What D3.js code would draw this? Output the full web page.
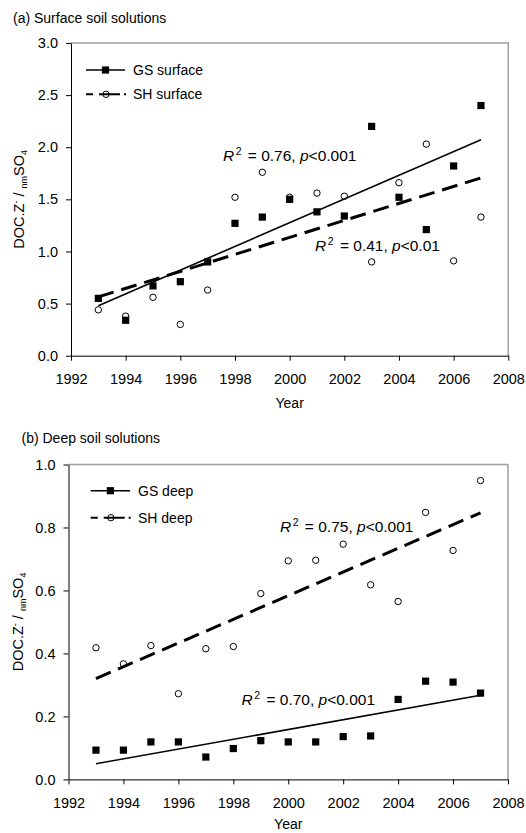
<!DOCTYPE html>
<html><head><meta charset="utf-8">
<script src="https://cdn.jsdelivr.net/npm/d3@7"></script>
<style>
body{margin:0;background:#fff;}
svg text{font-family:"Liberation Sans",Arial,Helvetica,sans-serif;fill:#000;}
</style></head><body>
<svg id="c" width="526" height="833"></svg>
<script>
// ---------------- data ----------------
const years = [1993,1994,1995,1996,1997,1998,1999,2000,2001,2002,2003,2004,2005,2006,2007];
const gsSurface = [0.55,0.34,0.67,0.71,0.90,1.27,1.33,1.50,1.38,1.34,2.20,1.52,1.21,1.82,2.40];
const shSurface = [0.44,0.38,0.56,0.30,0.63,1.52,1.76,1.52,1.56,1.53,0.90,1.66,2.03,0.91,1.33];
const gsDeep = [0.093,0.093,0.119,0.119,0.071,0.098,0.123,0.119,0.119,0.136,0.138,0.254,0.312,0.309,0.274];
const shDeep = [0.418,0.367,0.425,0.272,0.415,0.422,0.590,0.694,0.696,0.747,0.618,0.565,0.848,0.727,0.949];
const xTicks = [1992,1994,1996,1998,2000,2002,2004,2006,2008];
const yTicksA = [0,0.5,1.0,1.5,2.0,2.5,3.0];
const yTicksB = [0,0.2,0.4,0.6,0.8,1.0];
const titles = ["(a) Surface soil solutions","(b) Deep soil solutions"];
const legendA = ["GS surface","SH surface"];
const legendB = ["GS deep","SH deep"];
const statsA = [{r2:"0.76",p:"<0.001",year:1997.56,val:1.872},{r2:"0.41",p:"<0.01",year:2000.93,val:1.00}];
const statsB = [{r2:"0.75",p:"<0.001",year:1999.7,val:0.787},{r2:"0.70",p:"<0.001",year:1998.3,val:0.2365}];

// ---------------- helpers ----------------
function fit(xs, ys){
  const mx=d3.mean(xs), my=d3.mean(ys);
  let sxy=0,sxx=0;
  xs.forEach((x,i)=>{sxy+=(x-mx)*(ys[i]-my);sxx+=(x-mx)*(x-mx);});
  const b=sxy/sxx; return {a:my-b*mx,b};
}
const svg = d3.select("#c");
const FS = 14.5;

function panel(cfg){
  const x = d3.scaleLinear().domain([1992,2008]).range([cfg.l,cfg.r]);
  const y = d3.scaleLinear().domain([0,cfg.ymax]).range([cfg.b,cfg.t]);
  const g = svg.append("g");

  // title
  g.append("text").attr("x",cfg.titleX).attr("y",cfg.titleY).style("font-size","14px").text(cfg.title);

  // frame (top/right gray)
  g.append("path").attr("d",`M${cfg.l},${cfg.t}H${cfg.r}V${cfg.b}`)
    .attr("fill","none").attr("stroke","#a0a0a0").attr("stroke-width",1.5);

  // axes
  const xa = g.append("g").attr("transform",`translate(0,${cfg.b})`)
    .call(d3.axisBottom(x).tickValues(xTicks).tickFormat(d3.format("d")).tickSize(5).tickSizeOuter(0).tickPadding(13));
  const ya = g.append("g").attr("transform",`translate(${cfg.l},0)`)
    .call(d3.axisLeft(y).tickValues(cfg.yticks).tickFormat(d3.format(".1f")).tickSize(5).tickSizeOuter(0).tickPadding(8));
  [xa,ya].forEach(a=>{
    a.selectAll("text").style("font-size",FS+"px").style("font-family",'"Liberation Sans",Arial,sans-serif').attr("fill","#000");
    a.selectAll("line").attr("stroke","#000");
    a.select(".domain").attr("stroke","#000");
  });

  // axis titles
  g.append("text").attr("x",(cfg.l+cfg.r)/2).attr("y",cfg.b+cfg.yearOff).attr("text-anchor","middle").style("font-size","14px").text("Year");
  const yl = g.append("text").attr("transform",`translate(${cfg.ylx},${(cfg.t+cfg.b)/2}) rotate(-90)`)
    .attr("text-anchor","middle").style("font-size","14.5px");
  yl.append("tspan").text("DOC.Z");
  yl.append("tspan").attr("dy",-5).style("font-size","9px").text("-");
  yl.append("tspan").attr("dy",5).text(" / ");
  yl.append("tspan").attr("dy",3).style("font-size","9px").text("nm");
  yl.append("tspan").attr("dy",-3).text("SO");
  yl.append("tspan").attr("dy",3).style("font-size","9px").text("4");

  // regression lines
  const fg = fit(years,cfg.gs), fs = fit(years,cfg.sh);
  const x0 = years[0], x1 = years[years.length-1];
  g.append("line").attr("x1",x(x0)).attr("x2",x(x1)).attr("y1",y(fg.a+fg.b*x0)).attr("y2",y(fg.a+fg.b*x1))
    .attr("stroke","#000").attr("stroke-width",1.6);
  g.append("line").attr("x1",x(x0)).attr("x2",x(x1)).attr("y1",y(fs.a+fs.b*x0)).attr("y2",y(fs.a+fs.b*x1))
    .attr("stroke","#000").attr("stroke-width",3).attr("stroke-dasharray","16,8");

  // markers
  g.selectAll(".c").data(years).join("circle").attr("cx",d=>x(d)).attr("cy",(d,i)=>y(cfg.sh[i]))
    .attr("r",3.2).attr("fill","none").attr("stroke","#000").attr("stroke-width",1);
  g.selectAll(".s").data(years).join("rect").attr("x",d=>x(d)-3.6).attr("y",(d,i)=>y(cfg.gs[i])-3.6)
    .attr("width",7.2).attr("height",7.2).attr("fill","#000");

  // legend
  const L = cfg.leg;
  g.append("line").attr("x1",L.x0).attr("x2",L.x1).attr("y1",L.y1).attr("y2",L.y1).attr("stroke","#000").attr("stroke-width",1.5);
  g.append("rect").attr("x",(L.x0+L.x1)/2-3.6).attr("y",L.y1-3.6).attr("width",7.2).attr("height",7.2).attr("fill","#000");
  g.append("line").attr("x1",L.x0).attr("x2",L.x1+1).attr("y1",L.y2).attr("y2",L.y2).attr("stroke","#000").attr("stroke-width",2)
    .attr("stroke-dasharray","7,6,21,4,2");
  g.append("circle").attr("cx",(L.x0+L.x1)/2+0.5).attr("cy",L.y2).attr("r",3.2).attr("fill","none").attr("stroke","#000");
  g.append("text").attr("x",L.tx).attr("y",L.y1).attr("dy","0.36em").style("font-size","14px").text(cfg.legend[0]);
  g.append("text").attr("x",L.tx).attr("y",L.y2).attr("dy","0.36em").style("font-size","14px").text(cfg.legend[1]);

  // stats annotations
  cfg.stats.forEach(s=>{
    const t = g.append("text").attr("x",x(s.year)).attr("y",y(s.val)).style("font-size","15.5px");
    t.append("tspan").style("font-style","italic").text("R");
    t.append("tspan").attr("dx",1.5).attr("dy",-6).style("font-size","10.5px").text("2");
    t.append("tspan").attr("dx",2).attr("dy",6).text(" = " + s.r2 + ", ");
    t.append("tspan").style("font-style","italic").text("p");
    t.append("tspan").text(s.p);
  });
}

panel({l:71,r:508.3,t:43,b:355.7,ymax:3,yticks:yTicksA,gs:gsSurface,sh:shSurface,title:titles[0],
  titleX:13,titleY:22.5,ylx:24,yearOff:52.5,legend:legendA,leg:{x0:86,x1:125,y1:70,y2:94.3,tx:133},stats:statsA});
panel({l:68.5,r:508,t:464.5,b:779.4,ymax:1,yticks:yTicksB,gs:gsDeep,sh:shDeep,title:titles[1],
  titleX:21.5,titleY:443,ylx:23,yearOff:50,legend:legendB,leg:{x0:90.7,x1:130,y1:490.7,y2:517.7,tx:138},stats:statsB});
</script>
</body></html>
